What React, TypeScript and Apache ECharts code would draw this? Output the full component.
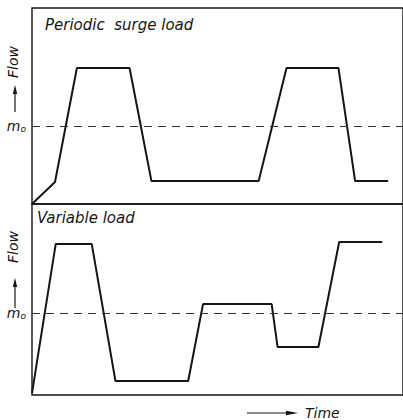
import React, { useEffect, useRef } from "react";
import * as echarts from "echarts";

// Periodic surge load (time units 0..100, flow 0..100)
const surgeTime = [0, 6.2, 12.1, 26.3, 32.2, 61.1, 68.6, 82.6, 87.1, 96.0];
const surgeFlow = [0, 11.2, 69.4, 69.4, 11.7, 11.7, 69.4, 69.4, 11.7, 11.7];
const surgeMean = 39.8;

// Variable load
const varTime = [0, 6.4, 16.1, 22.5, 42.1, 46.1, 64.6, 66.2, 77.2, 82.8, 94.4];
const varFlow = [1.0, 79.1, 79.1, 7.3, 7.3, 47.6, 47.6, 25.1, 25.1, 80.1, 80.1];
const varMean = 42.9;

const panelTitles = ["Periodic  surge load", "Variable load"];
const axisName = "Flow";
const timeName = "Time";

const INK = "#151515";
const FONT = "DejaVu Sans";

function pairs(xs: number[], ys: number[]) {
  return xs.map((x, i) => [x, ys[i]]);
}

function arrowUp(x: number, yTail: number, yHead: number) {
  return [
    { type: "line", shape: { x1: x, y1: yTail, x2: x, y2: yHead + 7 }, style: { stroke: INK, lineWidth: 1.2 } },
    { type: "polygon", shape: { points: [[x - 2.2, yHead + 9], [x + 2.2, yHead + 9], [x, yHead]] }, style: { fill: INK } },
  ];
}

export default function App() {
  const ref = useRef<HTMLDivElement>(null);
  useEffect(() => {
    if (!ref.current) return;
    const chart = echarts.init(ref.current, null, { renderer: "svg" });
    const mLabel = {
      show: true,
      margin: 6,
      formatter: () => "{m|m}{o|o}",
      rich: {
        m: { fontFamily: FONT, fontStyle: "italic", fontSize: 14, color: INK },
        o: { fontFamily: FONT, fontStyle: "italic", fontSize: 9, color: INK, verticalAlign: "bottom", padding: [6, 0, 0, 0] },
      },
    };
    const yAxisBase = (gi: number, mean: number) => ({
      type: "value",
      gridIndex: gi,
      min: 0,
      max: 100,
      axisLine: { show: false },
      axisTick: { show: false },
      splitLine: { show: false },
      axisLabel: { ...mLabel, customValues: [mean] },
    });
    const xAxisBase = (gi: number) => ({
      type: "value",
      gridIndex: gi,
      min: 0,
      max: 100,
      axisLine: { show: false },
      axisTick: { show: false },
      splitLine: { show: false },
      axisLabel: { show: false },
    });
    const series = (gi: number, data: number[][], mean: number) => ({
      type: "line",
      xAxisIndex: gi,
      yAxisIndex: gi,
      data,
      showSymbol: false,
      symbol: "none",
      lineStyle: { color: INK, width: 2 },
      markLine: {
        silent: true,
        symbol: ["none", "none"],
        label: { show: false },
        lineStyle: { color: "#333", width: 1, type: [8, 6] },
        data: [{ yAxis: mean }],
      },
    });
    const titleStyle = { fontFamily: FONT, fontStyle: "italic", fontWeight: "normal", fontSize: 15, color: INK };
    chart.setOption({
      animation: false,
      backgroundColor: "#fff",
      grid: [
        { left: 32, top: 8, right: -2, height: 196, show: true, borderColor: INK, borderWidth: 1.4 },
        { left: 32, top: 204, right: -2, height: 191, show: true, borderColor: INK, borderWidth: 1.4 },
      ],
      xAxis: [xAxisBase(0), xAxisBase(1)],
      yAxis: [yAxisBase(0, surgeMean), yAxisBase(1, varMean)],
      series: [series(0, pairs(surgeTime, surgeFlow), surgeMean), series(1, pairs(varTime, varFlow), varMean)],
      title: [
        { text: panelTitles[0], left: 45, top: 17, padding: 0, textStyle: titleStyle },
        { text: panelTitles[1], left: 37, top: 210, padding: 0, textStyle: titleStyle },
      ],
      graphic: [
        { type: "text", x: 13, y: 62, rotation: Math.PI / 2, style: { text: axisName, fontFamily: FONT, fontStyle: "italic", fontSize: 14, fill: INK, align: "center", verticalAlign: "middle" } },
        ...arrowUp(15, 112, 85),
        { type: "text", x: 13, y: 247, rotation: Math.PI / 2, style: { text: axisName, fontFamily: FONT, fontStyle: "italic", fontSize: 14, fill: INK, align: "center", verticalAlign: "middle" } },
        ...arrowUp(15, 308, 278),
        { type: "line", shape: { x1: 247, y1: 413, x2: 288, y2: 413 }, style: { stroke: INK, lineWidth: 1.2 } },
        { type: "polygon", shape: { points: [[286, 410.8], [286, 415.2], [298, 413]] }, style: { fill: INK } },
        { type: "text", x: 305, y: 413, style: { text: timeName, fontFamily: FONT, fontStyle: "italic", fontSize: 14, fill: INK, align: "left", verticalAlign: "middle" } },
      ],
    });
    return () => chart.dispose();
  }, []);
  return <div ref={ref} style={{ position: "fixed", left: 0, top: 0, width: 403, height: 420, background: "#fff" }} />;
}
